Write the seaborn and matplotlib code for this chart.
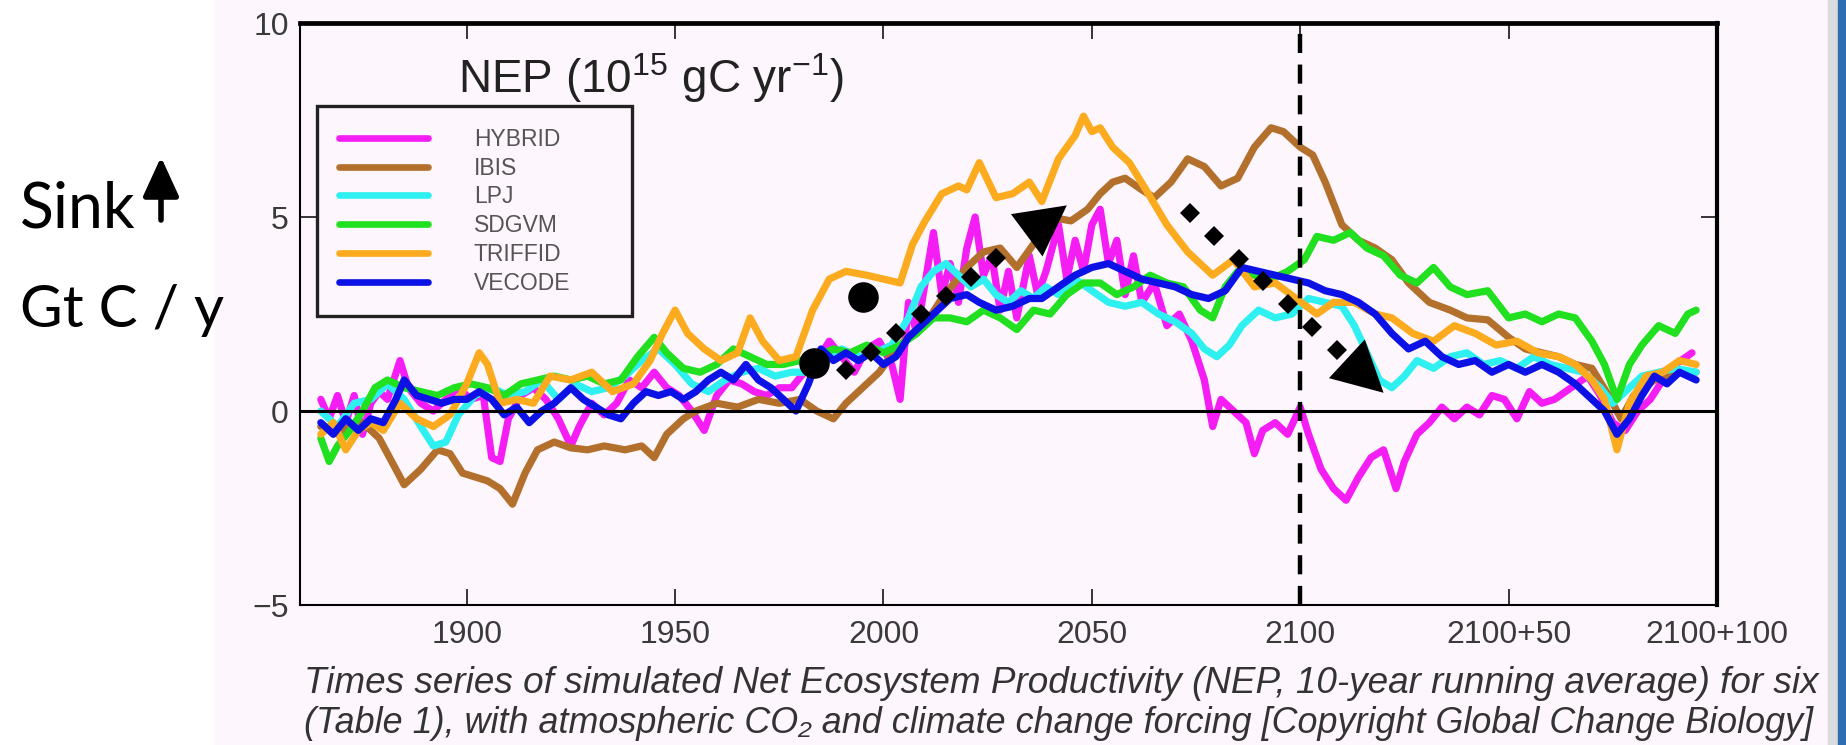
import numpy as np
import pandas as pd
import matplotlib
matplotlib.use("Agg")
import matplotlib.pyplot as plt
import seaborn as sns
from matplotlib.lines import Line2D
from matplotlib.patches import Rectangle

# ---- data (NEP, 10^15 gC / yr) ----
models = ["HYBRID", "IBIS", "LPJ", "SDGVM", "TRIFFID", "VECODE"]
colors = ["#f41ef4", "#b3702c", "#2ff0f0", "#20e020", "#fbab1d", "#0c12e6"]

hybrid_years = [1865, 1867, 1869, 1871, 1873, 1875, 1877, 1879, 1881, 1884,
                1886, 1889, 1892, 1895, 1898, 1901, 1904, 1906, 1908, 1910,
                1913, 1916, 1919, 1922, 1925, 1927, 1930, 1933, 1936, 1939,
                1942, 1945, 1948, 1951, 1954, 1957, 1960, 1963, 1966, 1969,
                1972, 1975, 1978, 1981, 1984, 1987, 1990, 1993, 1996, 1999,
                2002, 2004, 2006, 2008, 2010, 2012, 2014, 2016, 2018, 2020,
                2022, 2024, 2026, 2028, 2030, 2032, 2035, 2037, 2039, 2042,
                2044, 2046, 2048, 2050, 2052, 2054, 2056, 2058, 2060, 2062,
                2065, 2068, 2071, 2074, 2077, 2079, 2081, 2084, 2087, 2089,
                2091, 2094, 2097, 2100, 2102, 2105, 2108, 2111, 2114, 2117,
                2120, 2123, 2125, 2128, 2131, 2134, 2137, 2140, 2143, 2146,
                2149, 2152, 2155, 2158, 2161, 2165, 2169, 2172, 2175, 2178,
                2181, 2184, 2187, 2190, 2194]
hybrid_nep = [0.3, -0.2, 0.4, -0.3, 0.4, -0.6, 0.2, 0.5, 0.3, 1.3,
              0.6, 0.2, 0.0, 0.3, 0.6, 0.3, 0.4, -1.2, -1.3, -0.2,
              0.4, 0.6, 0.3, -0.2, -0.9, -0.4, 0.2, -0.1, 0.2, 0.8,
              0.6, 1.0, 0.6, 0.4, 0.0, -0.5, 0.4, 0.8, 0.7, 0.5,
              0.4, 0.6, 0.6, 1.0, 1.3, 1.8, 1.4, 1.0, 1.6, 1.8,
              1.2, 0.3, 2.8, 2.0, 3.3, 4.6, 3.0, 3.8, 2.8, 4.2,
              5.0, 3.5, 4.0, 2.6, 3.6, 2.4, 4.0, 3.0, 3.6, 4.8,
              3.4, 4.4, 3.6, 4.8, 5.2, 3.8, 4.4, 3.0, 4.0, 2.8,
              3.3, 2.2, 2.5, 1.8, 0.8, -0.4, 0.3, 0.0, -0.3, -1.1,
              -0.5, -0.3, -0.6, 0.1, -0.6, -1.5, -2.0, -2.3, -1.7, -1.2,
              -1.0, -2.0, -1.3, -0.6, -0.3, 0.1, -0.2, 0.1, -0.1, 0.4,
              0.3, -0.2, 0.5, 0.2, 0.3, 0.6, 0.9, 0.4, -0.3, -0.5,
              0.0, 0.3, 0.8, 1.2, 1.5]

ibis_years = [1865, 1870, 1875, 1879, 1882, 1885, 1889, 1893, 1896, 1899,
              1902, 1905, 1908, 1911, 1914, 1917, 1921, 1925, 1929, 1933,
              1938, 1942, 1945, 1948, 1952, 1955, 1960, 1965, 1970, 1975,
              1980, 1984, 1988, 1991, 1995, 1999, 2003, 2007, 2011, 2014,
              2017, 2020, 2024, 2028, 2032, 2036, 2040, 2045, 2049, 2052,
              2055, 2058, 2062, 2065, 2069, 2073, 2077, 2081, 2085, 2089,
              2093, 2096, 2100, 2103, 2106, 2110, 2114, 2118, 2122, 2126,
              2131, 2136, 2140, 2145, 2150, 2154, 2158, 2162, 2166, 2170,
              2174, 2177, 2180, 2185, 2190, 2195]
ibis_nep = [-0.4, -0.5, -0.3, -0.7, -1.3, -1.9, -1.5, -1.0, -1.1, -1.6,
            -1.7, -1.8, -2.0, -2.4, -1.6, -1.0, -0.8, -0.95, -1.0, -0.9,
            -1.0, -0.9, -1.2, -0.6, -0.2, 0.0, 0.2, 0.1, 0.3, 0.2,
            0.3, 0.0, -0.2, 0.2, 0.6, 1.0, 1.6, 2.0, 2.4, 2.9,
            3.3, 3.7, 4.1, 4.2, 3.7, 4.3, 5.0, 4.9, 5.2, 5.6,
            5.9, 6.0, 5.7, 5.5, 5.9, 6.5, 6.3, 5.8, 6.0, 6.8,
            7.3, 7.2, 6.8, 6.6, 5.9, 4.8, 4.4, 4.2, 3.9, 3.3,
            2.8, 2.6, 2.4, 2.35, 1.9, 1.6, 1.5, 1.4, 1.2, 1.1,
            0.4, -0.2, 0.4, 0.8, 1.0, 1.0]

lpj_years = [1865, 1869, 1873, 1877, 1881, 1885, 1889, 1892, 1895, 1898,
             1902, 1906, 1910, 1914, 1918, 1922, 1926, 1930, 1934, 1938,
             1942, 1946, 1950, 1954, 1958, 1962, 1966, 1970, 1974, 1978,
             1982, 1986, 1990, 1994, 1998, 2002, 2006, 2009, 2012, 2015,
             2018, 2021, 2024, 2027, 2030, 2033, 2036, 2039, 2042, 2046,
             2050, 2054, 2058, 2062, 2066, 2070, 2074, 2077, 2080, 2083,
             2086, 2090, 2094, 2098, 2102, 2106, 2110, 2113, 2116, 2119,
             2122, 2125, 2128, 2132, 2136, 2140, 2144, 2148, 2152, 2156,
             2160, 2164, 2168, 2172, 2175, 2178, 2182, 2186, 2190, 2195]
lpj_nep = [0.0, -0.4, 0.2, 0.3, 0.7, 0.3, -0.4, -0.9, -0.8, -0.1,
           0.4, 0.6, 0.4, 0.5, 0.8, 0.3, 0.7, 0.5, 0.6, 0.9,
           1.3, 1.6, 1.2, 0.7, 0.5, 0.8, 1.0, 1.1, 0.9, 1.0,
           1.0, 1.3, 1.6, 1.4, 1.5, 1.7, 2.4, 3.2, 3.6, 3.8,
           3.5, 3.2, 3.4, 3.0, 2.8, 3.1, 2.9, 3.2, 3.0, 3.4,
           3.1, 2.8, 2.7, 2.8, 2.5, 2.3, 2.0, 1.6, 1.4, 1.7,
           2.2, 2.6, 2.4, 2.5, 2.9, 2.8, 2.7, 2.2, 1.5, 0.8,
           0.6, 0.9, 1.3, 1.1, 1.4, 1.5, 1.2, 1.3, 1.1, 1.4,
           1.2, 1.1, 1.0, 0.6, 0.2, 0.5, 0.9, 1.0, 1.1, 1.0]

sdgvm_years = [1865, 1867, 1869, 1872, 1875, 1878, 1881, 1885, 1889, 1893,
               1897, 1901, 1905, 1909, 1913, 1917, 1921, 1925, 1929, 1933,
               1937, 1941, 1945, 1948, 1952, 1956, 1960, 1964, 1968, 1972,
               1976, 1980, 1984, 1988, 1992, 1996, 2000, 2004, 2008, 2012,
               2016, 2020, 2024, 2028, 2032, 2036, 2040, 2044, 2048, 2052,
               2056, 2060, 2064, 2068, 2072, 2076, 2079, 2082, 2085, 2089,
               2093, 2097, 2101, 2104, 2108, 2112, 2116, 2120, 2124, 2128,
               2132, 2136, 2140, 2145, 2150, 2154, 2158, 2162, 2166, 2170,
               2173, 2176, 2179, 2182, 2186, 2190, 2193, 2195]
sdgvm_nep = [-0.7, -1.3, -0.9, -0.5, 0.0, 0.6, 0.8, 0.6, 0.5, 0.4,
             0.6, 0.7, 0.6, 0.4, 0.7, 0.8, 0.9, 0.8, 0.9, 0.7,
             0.8, 1.4, 1.9, 1.5, 1.1, 1.0, 1.2, 1.6, 1.4, 1.2,
             1.2, 1.3, 1.4, 1.6, 1.5, 1.7, 1.5, 1.7, 2.0, 2.4,
             2.4, 2.3, 2.6, 2.4, 2.1, 2.6, 2.5, 3.0, 3.3, 3.3,
             3.0, 3.2, 3.5, 3.3, 3.2, 2.6, 2.4, 3.2, 3.6, 3.5,
             3.4, 3.6, 3.9, 4.5, 4.4, 4.6, 4.2, 4.0, 3.5, 3.3,
             3.7, 3.2, 3.0, 3.1, 2.4, 2.5, 2.3, 2.5, 2.4, 1.8,
             1.2, 0.3, 1.2, 1.7, 2.2, 2.0, 2.5, 2.6]

triffid_years = [1865, 1868, 1871, 1874, 1877, 1880, 1884, 1888, 1892, 1896,
                 1900, 1903, 1905, 1908, 1912, 1916, 1920, 1925, 1930, 1935,
                 1940, 1944, 1947, 1950, 1953, 1957, 1961, 1965, 1968, 1971,
                 1975, 1979, 1983, 1987, 1991, 1996, 2000, 2004, 2007, 2010,
                 2014, 2018, 2020, 2023, 2027, 2031, 2035, 2038, 2042, 2046,
                 2048, 2050, 2052, 2055, 2059, 2063, 2068, 2073, 2079, 2084,
                 2089, 2094, 2099, 2104, 2108, 2113, 2118, 2122, 2127, 2132,
                 2137, 2142, 2147, 2152, 2157, 2162, 2166, 2170, 2173, 2176,
                 2179, 2183, 2187, 2191, 2195]
triffid_nep = [-0.6, -0.3, -1.0, -0.5, -0.3, -0.5, 0.2, -0.2, -0.4, -0.1,
               0.7, 1.5, 1.2, 0.2, 0.3, 0.2, 0.9, 0.8, 1.0, 0.5,
               0.7, 1.3, 2.0, 2.6, 2.0, 1.6, 1.3, 1.5, 2.4, 1.8,
               1.3, 1.4, 2.6, 3.4, 3.6, 3.5, 3.4, 3.3, 4.3, 4.9,
               5.6, 5.8, 5.7, 6.4, 5.5, 5.6, 5.9, 5.4, 6.5, 7.1,
               7.6, 7.2, 7.3, 6.8, 6.4, 5.7, 4.8, 4.1, 3.5, 3.9,
               3.2, 3.3, 2.9, 2.5, 2.8, 2.8, 2.5, 2.4, 2.0, 1.8,
               2.2, 2.0, 1.7, 1.8, 1.5, 1.4, 1.2, 0.8, 0.3, -1.0,
               0.2, 0.9, 1.0, 1.3, 1.2]

vecode_years = [1865, 1868, 1871, 1874, 1877, 1880, 1883, 1885, 1888, 1891,
                1894, 1897, 1900, 1903, 1906, 1909, 1912, 1915, 1918, 1921,
                1925, 1928, 1931, 1934, 1937, 1940, 1943, 1946, 1949, 1952,
                1955, 1958, 1961, 1964, 1967, 1970, 1973, 1976, 1979, 1982,
                1985, 1988, 1991, 1994, 1997, 2000, 2003, 2006, 2009, 2012,
                2016, 2020, 2023, 2027, 2031, 2035, 2038, 2042, 2046, 2050,
                2054, 2058, 2062, 2066, 2070, 2074, 2078, 2082, 2086, 2090,
                2094, 2098, 2102, 2106, 2110, 2114, 2118, 2122, 2126, 2130,
                2134, 2138, 2142, 2146, 2150, 2154, 2158, 2162, 2166, 2170,
                2173, 2176, 2179, 2182, 2185, 2188, 2191, 2195]
vecode_nep = [-0.3, -0.6, -0.2, -0.5, -0.2, -0.3, 0.3, 0.8, 0.4, 0.3,
              0.2, 0.3, 0.3, 0.5, 0.3, -0.1, 0.1, -0.3, 0.0, 0.2,
              0.6, 0.3, 0.1, -0.1, -0.2, 0.2, 0.5, 0.4, 0.5, 0.3,
              0.5, 0.8, 1.0, 0.8, 1.2, 0.8, 0.6, 0.3, 0.0, 0.7,
              1.6, 1.3, 1.5, 1.3, 1.5, 1.2, 1.4, 1.9, 2.2, 2.5,
              2.9, 3.0, 2.8, 2.6, 2.7, 2.9, 2.9, 3.2, 3.5, 3.7,
              3.8, 3.6, 3.4, 3.3, 3.2, 3.0, 2.9, 3.1, 3.7, 3.6,
              3.5, 3.4, 3.3, 3.1, 3.0, 2.8, 2.5, 2.0, 1.6, 1.8,
              1.4, 1.2, 1.3, 1.0, 1.2, 1.0, 1.2, 1.0, 0.7, 0.3,
              0.0, -0.6, -0.2, 0.4, 0.9, 0.7, 1.0, 0.8]

xtick_pos = [1900, 1950, 2000, 2050, 2100, 2150, 2200]
xtick_labels = ["1900", "1950", "2000", "2050", "2100", "2100+50", "2100+100"]
ytick_pos = [-5, 0, 5, 10]

# annotation marks drawn over the curves
circle_years = [1983.3, 1995.1]
circle_nep = [1.23, 2.95]
arrow_starts = [(1991.0, 1.05), (2073.5, 5.1)]
arrow_tips = [(2044.0, 5.3), (2120.0, 0.47)]
arrow_dot_span = [0.68, 0.76]

series = {
    "HYBRID": (hybrid_years, hybrid_nep),
    "IBIS": (ibis_years, ibis_nep),
    "LPJ": (lpj_years, lpj_nep),
    "SDGVM": (sdgvm_years, sdgvm_nep),
    "TRIFFID": (triffid_years, triffid_nep),
    "VECODE": (vecode_years, vecode_nep),
}
df = pd.concat(
    [pd.DataFrame({"year": yrs, "nep": vals, "model": name})
     for name, (yrs, vals) in series.items()],
    ignore_index=True,
)

# ---- style ----
sns.set_style("ticks")
plt.rcParams["font.family"] = ["Liberation Sans", "DejaVu Sans"]
plt.rcParams["mathtext.fontset"] = "custom"
plt.rcParams["mathtext.rm"] = "Liberation Sans"
plt.rcParams["mathtext.it"] = "Liberation Sans:italic"

bg = "#fdf6fc"
fig = plt.figure(figsize=(18.46, 7.45), dpi=100)
fig.patch.set_facecolor("white")
fig.add_artist(Rectangle((215 / 1846, 0), (1828 - 215) / 1846, 1,
                         transform=fig.transFigure, color=bg, zorder=-10))
fig.add_artist(Rectangle((1828 / 1846, 0), 10 / 1846, 1,
                         transform=fig.transFigure, color="#d9dbde", zorder=20))
fig.add_artist(Rectangle((1838 / 1846, 0), 8 / 1846, 1,
                         transform=fig.transFigure, color="#2f6db3", zorder=21))

ax = fig.add_axes([0.1625, 0.1879, 0.7676, 0.7812])
ax.set_facecolor(bg)

palette = dict(zip(models, colors))
sns.lineplot(data=df, x="year", y="nep", hue="model", hue_order=models,
             palette=palette, estimator=None, linewidth=5.2, legend=False, ax=ax)

ax.axhline(0, color="black", lw=2.2, zorder=4)
ax.axvline(2100, color="black", lw=3.2, dashes=(4.3, 2.6), zorder=4)

# dotted trend arrows
for (x0, y0), (x1, y1), span in zip(arrow_starts, arrow_tips, arrow_dot_span):
    t = np.linspace(0, span, 7)
    ax.plot(x0 + t * (x1 - x0), y0 + t * (y1 - y0), linestyle="none",
            marker="D", ms=10.5, mew=0, color="black", zorder=6)
    ax.annotate("", xy=(x1, y1), xytext=(x0 + 0.8 * (x1 - x0), y0 + 0.8 * (y1 - y0)),
                arrowprops=dict(arrowstyle="-|>,head_length=1.8,head_width=0.95",
                                mutation_scale=20, fc="black", ec="black", lw=0,
                                shrinkA=0, shrinkB=0), zorder=6)
ax.plot(circle_years, circle_nep, linestyle="none", marker="o", ms=21,
        color="black", zorder=7)

ax.set_xlim(1860, 2200)
ax.set_ylim(-5, 10)
ax.set_xticks(xtick_pos)
ax.set_xticklabels(xtick_labels)
ax.set_yticks(ytick_pos)
ax.set_xlabel("")
ax.set_ylabel("")
ax.tick_params(direction="in", length=11.5, width=1.1, top=True, right=True,
               labelsize=23, labelcolor="#3a3a3a", color="black")
ax.tick_params(axis="x", pad=11)
ax.tick_params(axis="y", pad=8)
for side, lw in [("top", 3.4), ("right", 3.0), ("left", 1.5), ("bottom", 1.5)]:
    ax.spines[side].set_visible(True)
    ax.spines[side].set_linewidth(lw)
    ax.spines[side].set_color("black")

ax.text(1898, 8.2, r"NEP (10$^{15}$ gC yr$^{-1}$)", fontsize=33,
        color="#222222", ha="left", va="baseline")

handles = [Line2D([], [], color=c, lw=4.8) for c in colors]
leg = ax.legend(handles, models, loc="upper left",
                bbox_to_anchor=(0.012, 0.503, 0.222, 0.354), mode="expand",
                fontsize=16.5, handlelength=3.9, handletextpad=2.0,
                labelspacing=0.25, borderpad=0.95, borderaxespad=0,
                frameon=True, fancybox=False, framealpha=1)
leg.get_frame().set_edgecolor("#222222")
leg.get_frame().set_linewidth(2.4)
leg.get_frame().set_facecolor(bg)
for txt in leg.get_texts():
    txt.set_color("#555555")

# left-hand annotation
fig.text(20 / 1846, 1 - 227 / 745, "Sink", family="Lato", fontsize=45,
         color="black", ha="left", va="baseline")
fig.text(20 / 1846, 1 - 327 / 745, "Gt C / y", family="Lato", fontsize=42,
         color="black", ha="left", va="baseline")
ax.annotate("", xy=(161, 745 - 157), xycoords="figure pixels",
            xytext=(161, 745 - 220), textcoords="figure pixels",
            arrowprops=dict(arrowstyle="-|>,head_length=1.2,head_width=0.55",
                            mutation_scale=20, lw=4, color="black",
                            shrinkA=0, shrinkB=0),
            annotation_clip=False)

# caption
cap_kw = dict(style="italic", color="#333333", ha="left",
              va="baseline", family=["Liberation Sans", "DejaVu Sans"])
fig.text(304 / 1846, 1 - 693 / 745,
         "Times series of simulated Net Ecosystem Productivity (NEP, 10-year "
         "running average) for six", fontsize=26.6, **cap_kw)
fig.text(304 / 1846, 1 - 733 / 745,
         "(Table 1), with atmospheric CO\u2082 and climate change forcing "
         "[Copyright Global Change Biology]", fontsize=25.8, **cap_kw)

fig.savefig("out.png", dpi=100)
